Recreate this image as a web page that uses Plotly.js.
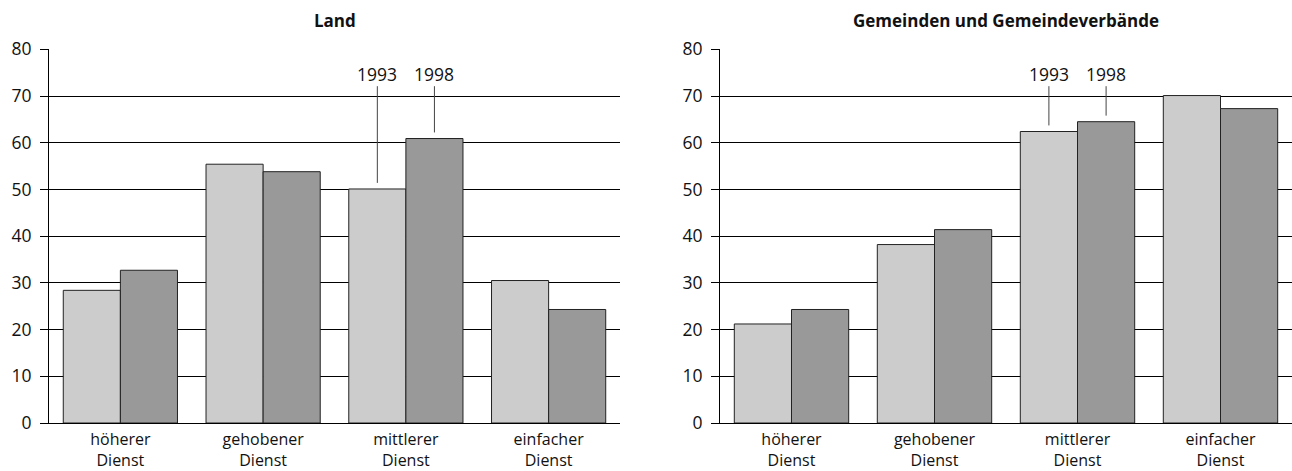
<!DOCTYPE html>
<html>
<head>
<meta charset="utf-8">
<script src="https://cdn.plot.ly/plotly-3.0.1.min.js"></script>
<style>html,body{margin:0;padding:0;background:#fff;}#chart{width:1292px;height:471px;}</style>
</head>
<body>
<div id="chart"></div>
<script>
// ---- data ----
const categories = ['höherer Dienst', 'gehobener Dienst', 'mittlerer Dienst', 'einfacher Dienst'];
const tickLabels = ['höherer<br>Dienst', 'gehobener<br>Dienst', 'mittlerer<br>Dienst', 'einfacher<br>Dienst'];
const years = ['1993', '1998'];
const land1993 = [28.4, 55.4, 50.1, 30.5];
const land1998 = [32.7, 53.8, 60.9, 24.3];
const gem1993 = [21.2, 38.2, 62.4, 70.1];
const gem1998 = [24.3, 41.4, 64.5, 67.3];
const panelTitles = ['Land', 'Gemeinden und Gemeindeverbände'];
const yTickVals = [0, 10, 20, 30, 40, 50, 60, 70, 80];
const annotatedCategory = 'mittlerer Dienst';

// ---- style ----
const FONT = 'Open Sans, Noto Sans, DejaVu Sans, sans-serif';
const colors = ['#cccccc', '#999999'];
const bargap = 0.2;
const yMax = 80;
const labelY = 74.7;
const leaderTop = 72.1;
const leaderGap = 1.3;

function barTrace(vals, i, xa, ya) {
  return {
    type: 'bar', x: categories, y: vals, name: years[i],
    xaxis: xa, yaxis: ya, showlegend: false, hoverinfo: 'skip',
    marker: {color: colors[i], line: {color: '#222', width: 1}}
  };
}

const data = [
  barTrace(land1993, 0, 'x', 'y'),
  barTrace(land1998, 1, 'x', 'y'),
  barTrace(gem1993, 0, 'x2', 'y2'),
  barTrace(gem1998, 1, 'x2', 'y2')
];

const catRange = [-0.5, categories.length - 0.5];
const xTickFont = {family: FONT, size: 16, color: '#111'};
const yTickFont = {family: FONT, size: 17.5, color: '#111'};

function xMain(domain, anchor) {
  return {
    domain: domain, anchor: anchor, type: 'category', range: catRange,
    tickmode: 'array', tickvals: categories, ticktext: tickLabels,
    showline: true, linecolor: '#000', linewidth: 1, ticks: '',
    showgrid: false, zeroline: false, tickfont: xTickFont, ticklabelstandoff: 2,
    fixedrange: true
  };
}
function yAxis(domain, anchor) {
  return {
    domain: domain, anchor: anchor, range: [0, yMax],
    tickmode: 'array', tickvals: yTickVals,
    showline: true, linecolor: '#000', linewidth: 1,
    ticks: 'outside', ticklen: 8, tickcolor: '#000', tickwidth: 1,
    showgrid: true, gridcolor: '#000', gridwidth: 1, zeroline: false,
    tickfont: yTickFont, ticklabelstandoff: 5, fixedrange: true
  };
}

const yDomain = [1 - 423 / 471, 1 - 49.3 / 471];
const xDomL = [49 / 1292, 620 / 1292];
const xDomR = [720 / 1292, 1];

const shapes = [];
const annotations = [];
const idx = categories.indexOf(annotatedCategory);
const barW = (1 - bargap) / years.length;
[[land1993, land1998, 'x', 'y'], [gem1993, gem1998, 'x2', 'y2']].forEach(function (p) {
  [p[0], p[1]].forEach(function (series, i) {
    const xc = idx - (1 - bargap) / 2 + barW * (i + 0.5);
    shapes.push({type: 'line', xref: p[2], yref: p[3], x0: xc, x1: xc,
      y0: series[idx] + leaderGap, y1: leaderTop, line: {color: '#444', width: 1}});
    annotations.push({xref: p[2], yref: p[3], x: xc, y: labelY, text: years[i],
      showarrow: false, xanchor: 'center', yanchor: 'middle',
      font: {family: FONT, size: 17.5, color: '#111'}});
  });
});
[xDomL, xDomR].forEach(function (d, i) {
  annotations.push({xref: 'paper', yref: 'paper', x: (d[0] + d[1]) / 2, y: 1 - 20.7 / 471,
    text: '<b>' + panelTitles[i] + '</b>', showarrow: false, xanchor: 'center', yanchor: 'middle',
    font: {family: FONT, size: 17, color: '#111'}});
});

const layout = {
  width: 1292, height: 471,
  margin: {l: 0, r: 0, t: 0, b: 0, pad: 0},
  paper_bgcolor: '#fff', plot_bgcolor: '#fff',
  barmode: 'group', bargap: bargap, bargroupgap: 0,
  showlegend: false,
  xaxis: xMain(xDomL, 'y'),
  yaxis: yAxis(yDomain, 'x'),
  xaxis2: xMain(xDomR, 'y2'),
  yaxis2: yAxis(yDomain, 'x2'),
  shapes: shapes,
  annotations: annotations
};

Plotly.newPlot('chart', data, layout, {staticPlot: true, displayModeBar: false});
</script>
</body>
</html>
